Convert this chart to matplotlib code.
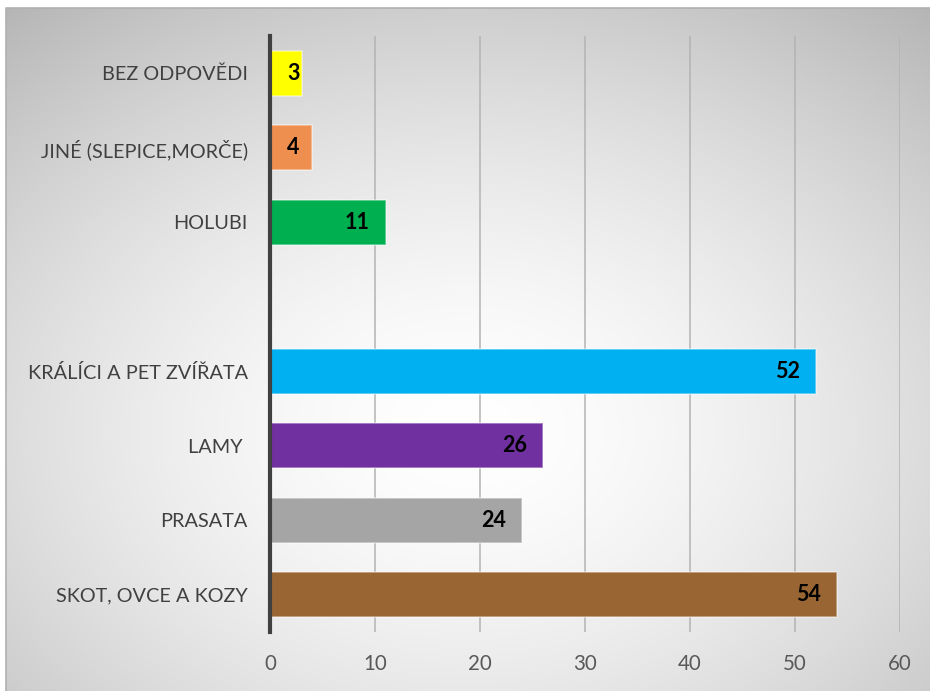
import matplotlib.pyplot as plt
import numpy as np

plt.rcParams['font.family'] = ['Lato', 'DejaVu Sans']

# data, bottom to top ("" is the empty slot between the groups)
categories = ["SKOT, OVCE A KOZY", "PRASATA", "LAMY ", "KRÁLÍCI A PET ZVÍŘATA", "",
              "HOLUBI", "JINÉ (SLEPICE,MORČE)", "BEZ ODPOVĚDI"]
values = [54, 24, 26, 52, None, 11, 4, 3]
colors = ["#996633", "#A5A5A5", "#7030A0", "#00B0F0", "none",
          "#00B050", "#EE8F4F", "#FFFF00"]
x_ticks = [0, 10, 20, 30, 40, 50, 60]

W, H = 930, 691
fig = plt.figure(figsize=(W / 100, H / 100), dpi=100)
fig.patch.set_facecolor("white")

# radial grey background behind the whole chart area
bx0, by0 = 6, 8
bg = fig.add_axes([bx0 / W, 0, (W - bx0) / W, (H - by0) / H])
bg.set_axis_off()
yy, xx = np.mgrid[0:H - by0, 0:W - bx0]
cx, cy = 465 - bx0, 430 - by0
d = np.sqrt(((xx - cx) / (W - bx0) * 2) ** 2 + ((yy - cy) / (H - by0) * 2) ** 2) / np.sqrt(2)
shade = 1 - 0.24 * np.clip(d, 0, 1.2) ** 1.6
bg.imshow(np.dstack([shade] * 3), aspect="auto", interpolation="bilinear")
# thin frame on top and left edges
bg.plot([0, 0, 1], [0, 1, 1], transform=bg.transAxes, color="#b0b0b0",
        linewidth=1.2, clip_on=False)

ax = fig.add_axes([270 / W, 1 - 632 / H, 630 / W, 596 / H])
ax.set_facecolor("none")

ypos = np.arange(len(categories))
for y, v, c in zip(ypos, values, colors):
    if v is None:
        continue
    ax.barh(y, v, height=0.6, color=c, edgecolor=(1, 1, 1, 0.45), linewidth=1.2, zorder=3)
    if v >= 10:
        ax.annotate(str(v), (v, y), xytext=(-16, 0), textcoords="offset pixels",
                    ha="right", va="center", fontsize=15.5, fontweight="bold",
                    color="black", zorder=4)
    else:
        ax.annotate(str(v), (0, y), xytext=(17, 0), textcoords="offset pixels",
                    ha="left", va="center", fontsize=15.5, fontweight="bold",
                    color="black", zorder=4)

ax.set_xlim(0, 60)
ax.set_ylim(-0.5, len(categories) - 0.5)
ax.set_xticks(x_ticks)
ax.set_yticks(ypos)
ax.set_yticklabels(categories)
ax.grid(axis="x", color="#b3b3b3", linewidth=1.1, zorder=1)
ax.grid(axis="y", visible=False)
for s in ["top", "right", "bottom"]:
    ax.spines[s].set_visible(False)
ax.spines["left"].set_color("#404040")
ax.spines["left"].set_linewidth(3)
ax.spines["left"].set_zorder(5)
ax.tick_params(axis="x", length=0, pad=16, labelsize=14.8, labelcolor="#595959")
ax.tick_params(axis="y", length=0, pad=16, labelsize=14.3, labelcolor="#404040")

fig.savefig("out.png", dpi=100)
